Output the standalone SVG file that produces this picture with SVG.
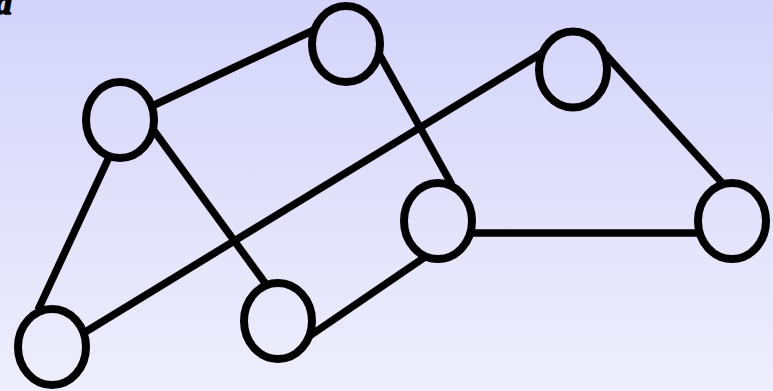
<svg xmlns="http://www.w3.org/2000/svg" width="773" height="391" viewBox="0 0 773 391">
<defs>
<linearGradient id="bg" gradientUnits="userSpaceOnUse" x1="0" y1="0" x2="0" y2="391">
<stop offset="0" stop-color="#d4d4fb"/>
<stop offset="1" stop-color="#eeeefc"/>
</linearGradient>
</defs>
<style>
.edge{stroke:#000;stroke-width:7.5;fill:none}
.node{stroke:#000;stroke-width:8;fill:url(#bg)}
.lbl{font-family:"Liberation Serif",serif;font-weight:bold;font-style:italic;font-size:34px;fill:#000;stroke:#000;stroke-width:1.5}
</style>
<rect width="773" height="391" fill="url(#bg)"/>
<text class="lbl" x="-5" y="14">a</text>
<g id="connectors">
<line class="edge" x1="150" y1="107" x2="314" y2="30"/>
<line class="edge" x1="152" y1="128" x2="268" y2="287"/>
<line class="edge" x1="110" y1="155" x2="38" y2="310"/>
<line class="edge" x1="82" y1="334" x2="542" y2="53"/>
<line class="edge" x1="378" y1="52" x2="452" y2="185"/>
<line class="edge" x1="605" y1="54" x2="724" y2="185"/>
<line class="edge" x1="470" y1="233" x2="700" y2="233"/>
<line class="edge" x1="428" y1="255" x2="308" y2="337"/>
</g>
<g id="nodeA"><ellipse class="node" cx="120" cy="120" rx="34" ry="38"/></g>
<g id="nodeB"><ellipse class="node" cx="346" cy="44" rx="34" ry="38"/></g>
<g id="nodeC"><ellipse class="node" cx="573" cy="69.5" rx="34" ry="38"/></g>
<g id="nodeD"><ellipse class="node" cx="438" cy="221" rx="34" ry="38"/></g>
<g id="nodeE"><ellipse class="node" cx="732" cy="221" rx="34" ry="38"/></g>
<g id="nodeF"><ellipse class="node" cx="52" cy="347" rx="34" ry="38"/></g>
<g id="nodeG"><ellipse class="node" cx="278" cy="321" rx="34" ry="38"/></g>
</svg>
